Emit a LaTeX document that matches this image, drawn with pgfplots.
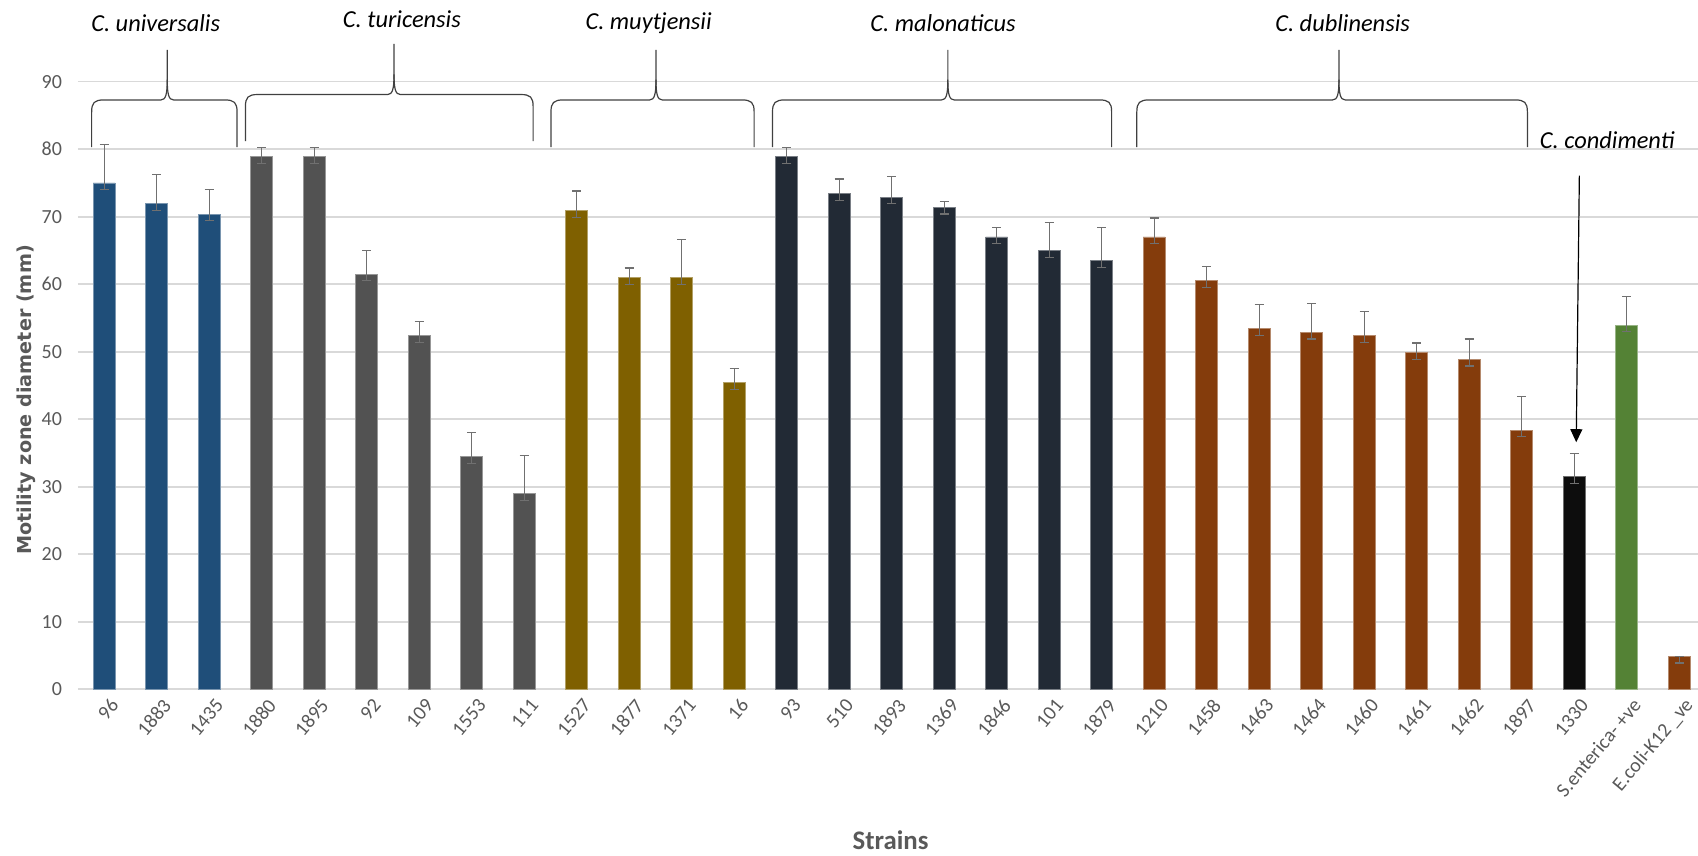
\documentclass[border=0pt]{standalone}
\usepackage{fontspec}
\setmainfont{Carlito}
\newfontfamily\labfont{DejaVu Sans}
\usepackage{pgfplots}
\pgfplotsset{compat=1.18}
\usetikzlibrary{arrows.meta}
\definecolor{cuni}{HTML}{1F4E79}
\definecolor{ctur}{HTML}{525252}
\definecolor{cmuy}{HTML}{7F6000}
\definecolor{cmal}{HTML}{222A35}
\definecolor{cdub}{HTML}{843C0C}
\definecolor{ccon}{HTML}{0D0D0D}
\definecolor{csen}{HTML}{548235}
\definecolor{gridgray}{HTML}{D9D9D9}
\definecolor{tickgray}{HTML}{595959}
\definecolor{errgray}{HTML}{707070}
\definecolor{bracecol}{HTML}{404040}
\newcommand{\cbrace}[6]{%
  \draw[bracecol, line width=0.6pt]
    (axis cs:#1,#4) -- (axis cs:#1,#5-1.8)
    .. controls (axis cs:#1,#5-0.4) and (axis cs:#1+0.05,#5) .. (axis cs:#1+0.24,#5)
    -- (axis cs:#2-0.12,#5)
    .. controls (axis cs:#2-0.03,#5) and (axis cs:#2,#5+0.8) .. (axis cs:#2,#5+3.0)
    -- (axis cs:#2,#6);
  \draw[bracecol, line width=0.6pt]
    (axis cs:#3,#4) -- (axis cs:#3,#5-1.8)
    .. controls (axis cs:#3,#5-0.4) and (axis cs:#3-0.05,#5) .. (axis cs:#3-0.24,#5)
    -- (axis cs:#2+0.12,#5)
    .. controls (axis cs:#2+0.03,#5) and (axis cs:#2,#5+0.8) .. (axis cs:#2,#5+3.0);
}
\pgfplotsset{
  mybar/.style={ybar, bar width=11pt, bar shift=0pt, fill=#1, draw=#1!60!white, line width=0.4pt,
    error bars/.cd, y dir=both, y explicit,
    error bar style={color=errgray, line width=0.6pt},
    error mark options={rotate=90, mark size=2.3pt, color=errgray, line width=0.6pt}},
}
\begin{document}
\begin{tikzpicture}
\useasboundingbox (0,0) rectangle (849pt,428pt);
\begin{axis}[
  at={(39pt,83.35pt)}, anchor=south west,
  scale only axis, width=810pt, height=303.8pt,
  xmin=-0.5, xmax=30.36, ymin=0, ymax=90,
  ytick={0,10,...,90},
  xtick={0,...,30},
  xticklabels={96,1883,1435,1880,1895,92,109,1553,111,1527,1877,1371,16,93,510,1893,1369,1846,101,1879,1210,1458,1463,1464,1460,1461,1462,1897,1330,S.enterica- +ve,E.coli-K12 \_ve},
  ymajorgrids, grid style={color=gridgray, line width=0.8pt},
  axis line style={draw=none},
  major tick length=0pt,
  clip=false,
  /pgf/number format/assume math mode=true,
  tick label style={font=\fontsize{10}{12}\selectfont, text=tickgray},
  xticklabel style={rotate=50, anchor=east, xshift=2pt, yshift=-8pt},
  yticklabel style={xshift=-4.5pt},
]
\addplot[mybar=cuni] table[x=x,y=y,y error plus=ep,y error minus=em] {
x y ep em
0 75.0 5.7 1.0
1 71.9 4.3 1.0
2 70.4 3.6 1.0
};
\addplot[mybar=ctur] table[x=x,y=y,y error plus=ep,y error minus=em] {
x y ep em
3 78.9 1.4 1.0
4 78.9 1.4 1.0
5 61.5 3.5 1.0
6 52.4 2.1 1.0
7 34.5 3.5 1.0
8 29.0 5.6 1.0
};
\addplot[mybar=cmuy] table[x=x,y=y,y error plus=ep,y error minus=em] {
x y ep em
9 70.9 2.9 1.0
10 61.0 1.4 1.0
11 61.0 5.6 1.0
12 45.4 2.1 1.0
};
\addplot[mybar=cmal] table[x=x,y=y,y error plus=ep,y error minus=em] {
x y ep em
13 78.9 1.4 1.0
14 73.4 2.2 1.0
15 72.9 3.0 1.0
16 71.4 0.8 1.0
17 67.0 1.4 1.0
18 65.0 4.1 1.0
19 63.5 4.9 1.0
};
\addplot[mybar=cdub] table[x=x,y=y,y error plus=ep,y error minus=em] {
x y ep em
20 67.0 2.8 1.0
21 60.5 2.1 1.0
22 53.4 3.6 1.0
23 52.9 4.3 1.0
24 52.4 3.6 1.0
25 49.9 1.4 1.0
26 48.9 3.0 1.0
27 38.3 5.1 0.9
};
\addplot[mybar=ccon] table[x=x,y=y,y error plus=ep,y error minus=em] {
x y ep em
28 31.5 3.4 1.0
};
\addplot[mybar=csen] table[x=x,y=y,y error plus=ep,y error minus=em] {
x y ep em
29 53.9 4.3 0.9
};
\addplot[mybar=cdub] table[x=x,y=y,y error plus=ep,y error minus=em] {
x y ep em
30 4.8 0.1 0.9
};
% braces
\cbrace{-0.24}{1.20}{2.53}{80.3}{87.3}{94.7}
\cbrace{2.69}{5.52}{8.17}{81.2}{88.1}{95.6}
\cbrace{8.51}{10.51}{12.38}{80.3}{87.3}{94.7}
\cbrace{12.73}{16.07}{19.19}{80.3}{87.3}{94.7}
\cbrace{19.67}{23.52}{27.11}{80.3}{87.3}{94.7}
% species names
\node[font=\fontsize{12.2}{14}\selectfont\itshape] at (axis cs:0.98,98.7) {C. universalis};
\node[font=\fontsize{12.2}{14}\selectfont\itshape] at (axis cs:5.67,99.2) {C. turicensis};
\node[font=\fontsize{12.2}{14}\selectfont\itshape] at (axis cs:10.37,98.6) {C. muytjensii};
\node[font=\fontsize{12.2}{14}\selectfont\itshape] at (axis cs:15.98,98.7) {C. malonaticus};
\node[font=\fontsize{12.2}{14}\selectfont\itshape] at (axis cs:23.59,98.7) {C. dublinensis};
\node[font=\fontsize{12.2}{14}\selectfont\itshape] at (axis cs:28.63,81.3) {C. condimenti};
\draw[-{Triangle[length=6.5pt,width=6pt]}, line width=0.6pt, black] (axis cs:28.10,76.1) -- (axis cs:28.04,36.6);
\end{axis}
\node[rotate=90, font=\labfont\bfseries\fontsize{9.6}{11}\selectfont, text=tickgray] at (13pt,228pt) {Motility zone diameter (mm)};
\node[font=\bfseries\fontsize{13.4}{15}\selectfont, text=tickgray] at (445.3pt,8pt) {Strains};
\end{tikzpicture}
\end{document}
